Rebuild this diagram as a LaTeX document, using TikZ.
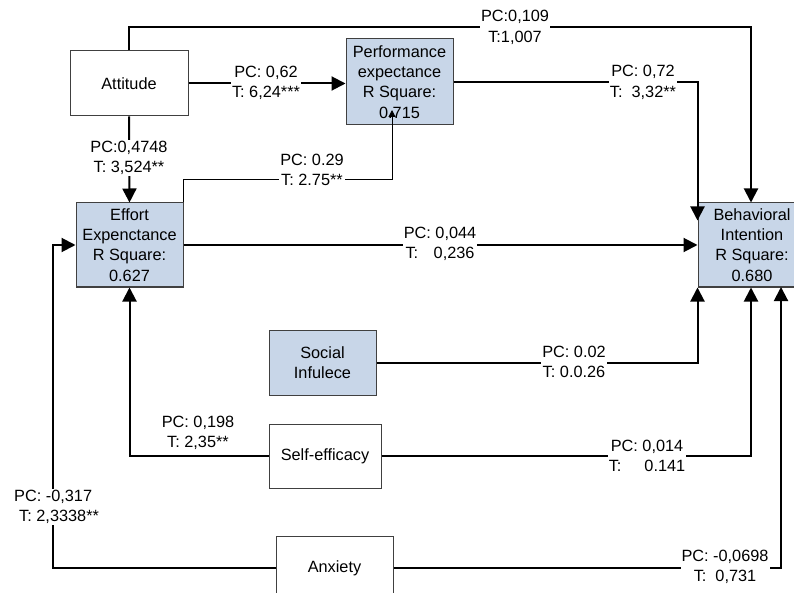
\documentclass[tikz,border=0pt]{standalone}
\usepackage{fontspec}
\setmainfont{Liberation Sans}
\usetikzlibrary{arrows.meta}
\definecolor{boxblue}{RGB}{200,214,232}
\begin{document}
\begin{tikzpicture}[x=1pt,y=-1pt,
  every node/.style={font=\fontsize{16.3}{20.3}\selectfont},
  wbox/.style={draw=black!75, line width=1pt, fill=white, align=center, inner sep=0pt},
  bbox/.style={wbox, fill=boxblue},
  conn/.style={line width=2pt, -{Triangle[length=14pt,width=14pt]}},
  thinconn/.style={line width=1pt, -{Triangle[length=7pt,width=7pt]}},
  lbl/.style={fill=white, inner sep=1pt, align=center}
]
\useasboundingbox (0,0) rectangle (794,593);
\clip (0,0) rectangle (794,593);
\fill[white] (0,0) rectangle (794,593);

% constructs
\node[wbox, minimum width=118pt, minimum height=65pt] (att) at (129,83.5) {Attitude};
\node[bbox, minimum width=107pt, minimum height=86pt] (perf) at (399.5,82)
  {Performance\\expectance\\R Square:\\0.715};
\node[bbox, minimum width=107pt, minimum height=84pt] (eff) at (129.5,245)
  {Effort\\Expenctance\\R Square:\\0.627};
\node[bbox, minimum width=108pt, minimum height=84pt] (beh) at (752,245)
  {Behavioral\\Intention\\R Square:\\0.680};
\node[bbox, minimum width=107pt, minimum height=65pt] (soc) at (322.5,362.5)
  {Social\\Infulece};
\node[wbox, minimum width=112pt, minimum height=64pt] (self) at (325,456) {Self-efficacy};
\node[wbox, minimum width=117pt, minimum height=64pt] (anx) at (334.5,568) {Anxiety};

% routing points
\coordinate (topbend) at (751,27);
\coordinate (effbend) at (392,180);
\coordinate (perfin) at (392,110);
\coordinate (anxbend) at (53,0);
\coordinate (anxin) at (781,287);

% paths
\draw[conn] (att.north) |- (topbend) -- (topbend |- beh.north);
\draw[conn] (att.east) -- (perf.west |- att.east);
\draw[conn] (att.south) -- (eff.north);
\draw[thinconn] (eff.north east) |- (effbend) -- (perfin);
\draw[conn] (perf.east) -| ([yshift=-18pt]beh.north west);
\draw[conn] (eff.east) -- (beh.west);
\draw[conn] (soc.east) -| (beh.south west);
\draw[conn] (self.west) -| (eff.south);
\draw[conn] (self.east) -| ([xshift=-1pt]beh.south);
\draw[conn] (anx.west) -| (anxbend |- eff.west) -- (eff.west);
\draw[conn] (anx.east) -| (anxin);

% path coefficients
\node[lbl] (l1) at (515,27.5) {PC:0,109\\T:1,007};
\node[lbl] (l2) at (266,83) {PC: 0,62\\T: 6,24***};
\node[lbl] (l3) at (129,158) {PC:0,4748\\T: 3,524**};
\node[lbl] (l4) at (312,170) {PC: 0.29\\T: 2.75**};
\node[lbl] (l5) at (643,82.5) {PC: 0,72\\T:\hspace{9pt}3,32**};
\node[lbl] (l6) at (440,244) {PC: 0,044\\T:\hspace{15.5pt}0,236};
\node[lbl] (l7) at (574,362) {PC: 0.02\\T: 0.0.26};
\node[lbl] (l8) at (198,433) {PC: 0,198\\T: 2,35**};
\node[lbl] (l9) at (647,456) {PC: 0,014\\T:\hspace{23pt}0.141};
\node[lbl, align=left, anchor=west] (l10) at (13,507) {PC: -0,317\\\hspace*{5pt}T: 2,3338**};
\node[lbl] (l11) at (725,567) {PC: -0,0698\\T:\hspace{9pt}0,731};
\end{tikzpicture}
\end{document}
